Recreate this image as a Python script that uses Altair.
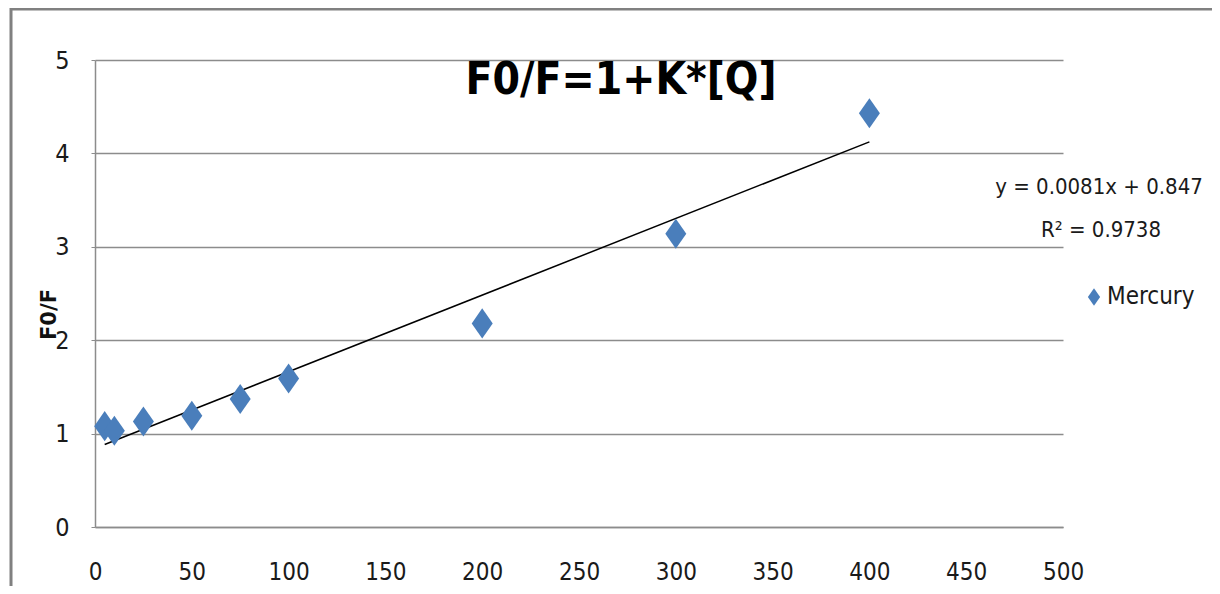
import altair as alt
import pandas as pd

# Data
concentration = [5, 10, 25, 50, 75, 100, 200, 300, 400]
f0_over_f = [1.08, 1.03, 1.13, 1.19, 1.37, 1.59, 2.18, 3.14, 4.43]
series_name = ["Mercury"] * len(concentration)

x_ticks = [0, 50, 100, 150, 200, 250, 300, 350, 400, 450, 500]
y_ticks = [0, 1, 2, 3, 4, 5]

chart_title = "F0/F=1+K*[Q]"
equation_text = ["y = 0.0081x + 0.847", "R² = 0.9738"]
y_title = "F0/F"

df = pd.DataFrame({"conc": concentration, "ratio": f0_over_f, "series": series_name})

FONT = "DejaVu Sans Condensed, Liberation Sans Narrow, sans-serif"
BLUE = "#4a7ebb"
GRID = "#8c8c8c"
DIAMOND = "M0,-1.43L1,0L0,1.43L-1,0Z"

x_enc = alt.X(
    "conc:Q",
    scale=alt.Scale(domain=[0, 500], nice=False),
    axis=alt.Axis(
        values=x_ticks, title=None, grid=False, ticks=False, format="d",
        labelFont=FONT, labelFontSize=24, labelColor="#1a1a1a", labelPadding=33,
        domainColor=GRID, domainWidth=1.5, labelFlush=False,
    ),
)
y_enc = alt.Y(
    "ratio:Q",
    scale=alt.Scale(domain=[0, 5], nice=False),
    axis=alt.Axis(
        values=y_ticks, title=y_title, grid=True, gridColor=GRID, gridWidth=1.5,
        ticks=True, tickSize=4, tickColor=GRID, format="d",
        labelFont=FONT, labelFontSize=25, labelColor="#1a1a1a", labelPadding=22,
        domainColor=GRID, domainWidth=1.5,
        titleFont="DejaVu Sans", titleFontWeight="bold", titleFontSize=21, titleColor="#111",
        titleX=-46, titleY=254, titleAngle=270, titleAlign="center", titleBaseline="middle",
    ),
)

base = alt.Chart(df)

points = base.mark_point(filled=True, opacity=1, shape=DIAMOND, size=441).encode(
    x=x_enc,
    y=y_enc,
    color=alt.Color(
        "series:N",
        scale=alt.Scale(range=[BLUE]),
        legend=alt.Legend(
            title=None, orient="none", legendX=987, legendY=225,
            symbolType=DIAMOND, symbolSize=150, symbolFillColor=BLUE, symbolStrokeWidth=0,
            labelFont=FONT, labelFontSize=24, labelColor="#1a1a1a", padding=0,
            labelOffset=1,
        ),
    ),
)

trend = base.transform_regression("conc", "ratio", method="linear").mark_line(
    color="#000000", strokeWidth=1.5
).encode(x="conc:Q", y="ratio:Q")

title_mark = alt.Chart(pd.DataFrame({"t": [chart_title]})).mark_text(
    font=FONT, fontSize=44, fontWeight="bold", color="#000000",
    align="center", baseline="middle",
).encode(text="t:N", x=alt.value(526), y=alt.value(21))

eq1 = alt.Chart(pd.DataFrame({"t": [equation_text[0]]})).mark_text(
    font=FONT, fontSize=22, color="#1a1a1a", align="center", baseline="middle",
).encode(text="t:N", x=alt.value(1004), y=alt.value(127))
eq2 = alt.Chart(pd.DataFrame({"t": [equation_text[1]]})).mark_text(
    font=FONT, fontSize=22, color="#1a1a1a", align="center", baseline="middle",
).encode(text="t:N", x=alt.value(1006), y=alt.value(170))

border_df = pd.DataFrame({"a": [0]})
border_top = alt.Chart(border_df).mark_rule(color="#808080", strokeWidth=3).encode(
    x=alt.value(-84), x2=alt.value(1117), y=alt.value(-51)
)
border_left = alt.Chart(border_df).mark_rule(color="#808080", strokeWidth=3).encode(
    x=alt.value(-84), y=alt.value(-52), y2=alt.value(530)
)

chart = alt.layer(
    border_top, border_left, trend, points, title_mark, eq1, eq2
).properties(
    width=968, height=467,
    autosize=alt.AutoSizeParams(type="none"),
    padding={"left": 87, "top": 52, "right": 149, "bottom": 59},
    background="white",
).configure_view(stroke=None)

chart.save("out.html", embed_options={"renderer": "svg", "actions": False})
